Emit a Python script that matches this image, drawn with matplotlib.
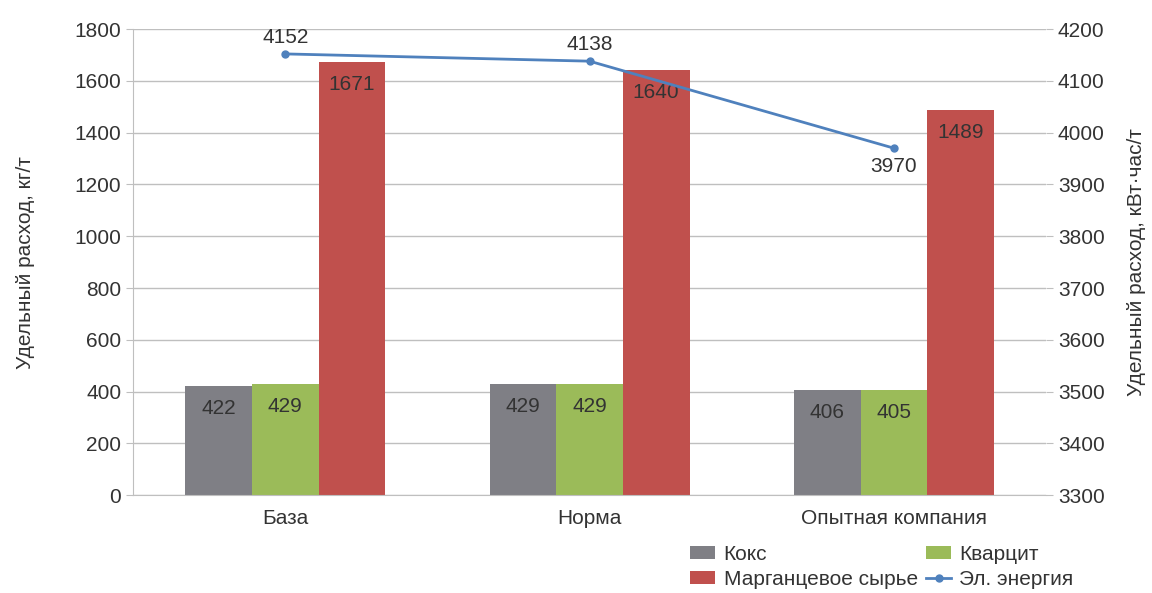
import matplotlib
matplotlib.use('Agg')
import matplotlib.pyplot as plt
import numpy as np

plt.rcParams['font.family'] = ['Liberation Sans Narrow', 'Liberation Sans', 'DejaVu Sans']

categories = ['База', 'Норма', 'Опытная компания']
koks = [422, 429, 406]
kvarcit = [429, 429, 405]
marganec = [1671, 1640, 1489]
energy = [4152, 4138, 3970]

c_koks = '#7f7f85'
c_kvarcit = '#9bbb59'
c_marg = '#c0504d'
c_line = '#4f81bd'
c_grid = '#bfbfbf'
c_text = '#333333'

fig = plt.figure(figsize=(11.52, 5.93), dpi=100)
ax = fig.add_axes([0.1155, 0.165, 0.7925, 0.786])
ax2 = ax.twinx()

x = np.arange(len(categories))
w = 0.219

b1 = ax.bar(x - w, koks, w, color=c_koks, label='Кокс')
b2 = ax.bar(x, kvarcit, w, color=c_kvarcit, label='Кварцит')
b3 = ax.bar(x + w, marganec, w, color=c_marg, label='Марганцевое сырье')

fs = 15
for bars in (b1, b2, b3):
    for r in bars:
        ax.text(r.get_x() + r.get_width() / 2, r.get_height() - 50, str(int(r.get_height())),
                ha='center', va='top', fontsize=fs, color=c_text)

ax.set_ylim(0, 1800)
ax.set_yticks(np.arange(0, 1801, 200))
ax.set_xlim(-0.5, 2.5)
ax.set_xticks(x)
ax.set_xticklabels(categories)
ax.grid(axis='y', color=c_grid, lw=1)
ax.set_axisbelow(True)

ln, = ax2.plot(x, energy, color=c_line, lw=2, marker='o', ms=5, label='Эл. энергия')
offs = [5, 5, -6]
for xi, v, o in zip(x, energy, offs):
    ax2.annotate(str(v), (xi, v), xytext=(0, o), textcoords='offset points',
                 ha='center', va='bottom' if o > 0 else 'top', fontsize=fs, color=c_text)
ax2.set_ylim(3300, 4200)
ax2.set_yticks(np.arange(3300, 4201, 100))

for a in (ax, ax2):
    for s in ('top', 'right'):
        a.spines[s].set_visible(False)
    a.tick_params(colors=c_grid, labelcolor=c_text, labelsize=fs, length=5)
ax.spines['left'].set_color(c_grid)
ax.spines['bottom'].set_color(c_grid)
ax2.spines['left'].set_visible(False)
ax2.spines['bottom'].set_visible(False)
ax.tick_params(axis='x', length=0, pad=10)

ax.set_ylabel('Удельный расход, кг/т', fontsize=fs, color=c_text, labelpad=28)
ax2.set_ylabel('Удельный расход, кВт·час/т', fontsize=fs, color=c_text, labelpad=16)

# column-wise fill of the legend: left column Кокс / Марганцевое, right column Кварцит / Эл. энергия
handles = [b1, b3, b2, ln]
fig.legend(handles, [h.get_label() for h in handles], ncol=2, frameon=False,
           loc='lower left', bbox_to_anchor=(0.583, -0.025), fontsize=fs,
           handlelength=1.2, handleheight=0.6, handletextpad=0.4,
           columnspacing=0.4, labelspacing=0.3, labelcolor=c_text)

fig.savefig('out.png', dpi=100)
